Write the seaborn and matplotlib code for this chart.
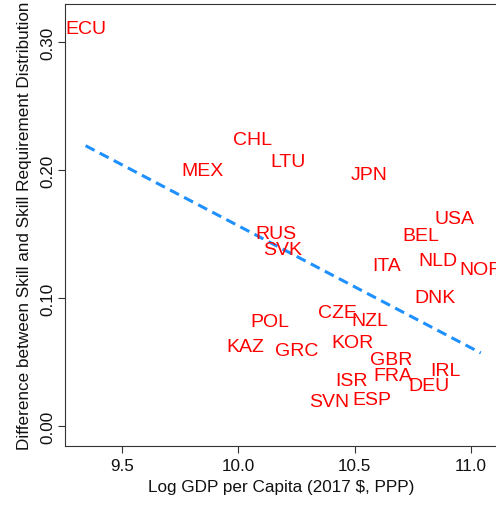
import matplotlib
matplotlib.use("Agg")
import matplotlib.pyplot as plt
import seaborn as sns
import pandas as pd

# Country codes, log GDP per capita and skill-gap measure
countries = ["ECU", "CHL", "LTU", "MEX", "JPN", "RUS", "SVK", "USA", "BEL", "ITA",
             "NLD", "NOR", "DNK", "CZE", "NZL", "POL", "KAZ", "GRC", "KOR", "GBR",
             "FRA", "IRL", "DEU", "ISR", "SVN", "ESP"]
log_gdp = [9.342, 10.060, 10.215, 9.844, 10.564, 10.163, 10.188, 10.932, 10.784, 10.636,
           10.858, 11.043, 10.845, 10.424, 10.565, 10.137, 10.029, 10.252, 10.493, 10.659,
           10.664, 10.891, 10.819, 10.488, 10.392, 10.575]
skill_gap = [0.3125, 0.2254, 0.2085, 0.2016, 0.1984, 0.1518, 0.1397, 0.1640, 0.1501, 0.1273,
             0.1306, 0.1239, 0.1019, 0.0905, 0.0841, 0.0830, 0.0640, 0.0602, 0.0671, 0.0538,
             0.0410, 0.0452, 0.0330, 0.0374, 0.0209, 0.0220]

x_ticks = [9.5, 10.0, 10.5, 11.0]
x_tick_labels = ["9.5", "10.0", "10.5", "11.0"]
y_ticks = [0.0, 0.1, 0.2, 0.3]
y_tick_labels = ["0.00", "0.10", "0.20", "0.30"]

df = pd.DataFrame({"country": countries, "log_gdp": log_gdp, "skill_gap": skill_gap})

sns.set_style("ticks")
plt.rcParams["font.family"] = ["Liberation Sans", "DejaVu Sans"]

fig = plt.figure(figsize=(4.96, 5.06), dpi=100)
ax = fig.add_axes([65 / 496, 59 / 506, 432 / 496, 442 / 506])

# OLS fit line, dashed
sns.regplot(data=df, x="log_gdp", y="skill_gap", scatter=False, ci=None,
            truncate=True, ax=ax,
            line_kws=dict(color="#1E90FF", lw=2.2, linestyle=(0, (3.3, 1.9)),
                          dash_capstyle="butt"))

# Country labels placed at each observation
for c, xv, yv in zip(df["country"], df["log_gdp"], df["skill_gap"]):
    ax.text(xv, yv, c, color="#FF0000", fontsize=14, ha="center",
            va="center_baseline", clip_on=False)

ax.set_xlim(9.2533, 11.113)
ax.set_ylim(-0.01564, 0.3299)
ax.set_xticks(x_ticks)
ax.set_xticklabels(x_tick_labels)
ax.set_yticks(y_ticks)
ax.set_yticklabels(y_tick_labels, rotation=90, va="center")

ax.tick_params(axis="both", which="major", length=5, width=0.8, color="#333333",
               labelsize=12.3, labelcolor="#111111", direction="out")
ax.tick_params(axis="x", pad=4)
ax.tick_params(axis="y", pad=2)

for side in ["left", "bottom", "top", "right"]:
    ax.spines[side].set_visible(True)
    ax.spines[side].set_color("#333333")
    ax.spines[side].set_linewidth(0.8)

ax.set_xlabel("Log GDP per Capita (2017 $, PPP)", fontsize=12.3, color="#111111",
              labelpad=4)
ax.set_ylabel("Difference between Skill and Skill Requirement Distribution",
              fontsize=12.3, color="#111111", labelpad=6)

fig.savefig("out.png", dpi=100)
